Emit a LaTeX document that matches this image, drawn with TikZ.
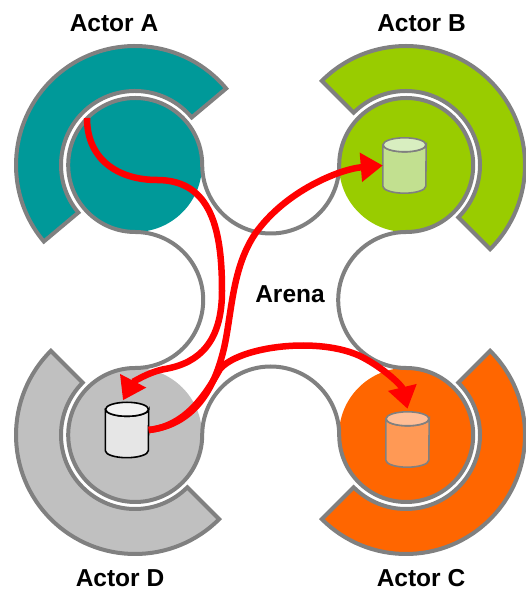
\documentclass[tikz,border=0pt]{standalone}
\usepackage{fontspec}
\setmainfont{Liberation Sans}
\usetikzlibrary{arrows.meta}
\definecolor{actorTeal}{HTML}{009999}
\definecolor{actorGreen}{HTML}{99CC00}
\definecolor{actorOrange}{HTML}{FF6600}
\definecolor{actorGrey}{HTML}{C0C0C0}
\definecolor{ringLine}{HTML}{808080}
\definecolor{flowRed}{HTML}{FF0000}
\definecolor{storeGreen}{HTML}{C2E090}
\definecolor{storeGreenTop}{HTML}{D8EEC0}
\definecolor{storeOrange}{HTML}{FF9955}
\definecolor{storeOrangeTop}{HTML}{FFBE96}
\definecolor{storeGrey}{HTML}{E6E6E6}
\definecolor{storeGreyTop}{HTML}{F2F2F2}
\tikzset{
    actor-ring/.style = {draw=ringLine, line width=4pt},
    actor-disc/.style = {circle, inner sep=0pt, minimum size=134pt},
    arena-line/.style = {draw=ringLine, line width=4pt},
    data-store/.style = {rectangle, inner sep=0pt, minimum width=43pt, minimum height=55pt},
    store-line/.style = {line width=1.6pt},
    flow-arrow/.style = {draw=flowRed, line width=6.5pt, -{Triangle[length=22pt, width=28pt]}},
    actor-title/.style = {font=\fontsize{24.5}{28}\selectfont\bfseries, inner sep=0pt, anchor=base},
}

\begin{document}
\begin{tikzpicture}[x=1pt, y=1pt]
\useasboundingbox (0,0) rectangle (525,591);
% actors: outer ring and disc
\foreach \name/\x/\y/\col/\a in {A/135/426/actorTeal/40, B/406/426/actorGreen/-45, C/406/156/actorOrange/225, D/135/156/actorGrey/135} {
    \draw[actor-ring, fill=\col] ([shift={(\a:119)}]\x,\y) arc[start angle=\a, delta angle=180, radius=119]
        -- ([shift={(\a+180:74)}]\x,\y) arc[start angle=\a+180, delta angle=-180, radius=74] -- cycle;
    \node[actor-disc, fill=\col] (disc-\name) at (\x,\y) {};
}
% arena outline
\draw[arena-line] (disc-A.east) arc[start angle=0, end angle=270, radius=67]
    arc[start angle=90, end angle=-90, radius=68]
    arc[start angle=90, end angle=360, radius=67]
    arc[start angle=180, end angle=0, radius=68.5]
    arc[start angle=180, end angle=450, radius=67]
    arc[start angle=270, end angle=90, radius=68]
    arc[start angle=270, end angle=540, radius=67]
    arc[start angle=0, end angle=-180, radius=68.5] -- cycle;
% data stores
\node[data-store] (store-B) at (404.5,425.5) {};
\node[data-store] (store-C) at (407.5,151.5) {};
\node[data-store] (store-D) at (127,161) {};
\foreach \s/\body/\top/\edge in {B/storeGreen/storeGreenTop/ringLine, C/storeOrange/storeOrangeTop/ringLine, D/storeGrey/storeGreyTop/black} {
    \draw[store-line, draw=\edge, fill=\body] ([yshift=-7pt]store-\s.north west) -- ([yshift=7pt]store-\s.south west)
        arc[start angle=180, end angle=360, x radius=21.5, y radius=7]
        -- ([yshift=-7pt]store-\s.north east) arc[start angle=0, end angle=-180, x radius=21.5, y radius=7] -- cycle;
    \draw[store-line, draw=\edge, fill=\top] ([yshift=-7pt]store-\s.north) ellipse[x radius=21.5, y radius=7];
}
\coordinate (flow-start) at (87,473);
% flows
\draw[flow-arrow] (flow-start) .. controls (87,430) and (120,411) .. (157,411)
    .. controls (212,411) and (222,360) .. (222,300)
    .. controls (222,250) and (200,228) .. (165,222)
    .. controls (148,219) and (132,208) .. ([xshift=-4pt, yshift=2pt]store-D.north);
\draw[flow-arrow] (store-D.east) .. controls (185,165) and (210,190) .. (222,235)
    .. controls (232,270) and (230,320) .. (255,357)
    .. controls (285,400) and (340,422) .. (store-B.west);
\draw[flow-arrow] (store-D.east) .. controls (185,165) and (205,195) .. (220,222)
    .. controls (240,245) and (320,255) .. (362,234)
    .. controls (385,222) and (402,205) .. ([yshift=3pt]store-C.north);
% titles
\node[actor-title] (title-A) at (114,559) {Actor A};
\node[actor-title] (title-B) at (421.5,559) {Actor B};
\node[actor-title] (title-C) at (421,5) {Actor C};
\node[actor-title] (title-D) at (120,5) {Actor D};
\node[actor-title] (title-arena) at (290,288) {Arena};
\end{tikzpicture}
\end{document}
